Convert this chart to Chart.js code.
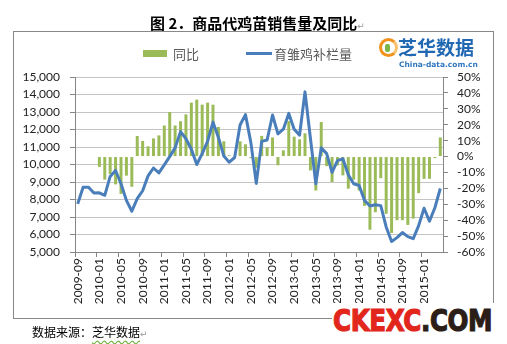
<!DOCTYPE html>
<html>
<head>
<meta charset="utf-8">
<script src="https://cdn.jsdelivr.net/npm/chart.js@4.4.1/dist/chart.umd.min.js"></script>
<style>
  body { margin: 0; width: 507px; height: 344px; position: relative; background: #fff; overflow: hidden; }
  .abs { position: absolute; white-space: nowrap; }
  #title { left: 150px; top: 12px; font: bold 15px "Noto Sans CJK SC"; color: #000; }
  .pmark { font: 9px "DejaVu Sans"; color: #999; }
  #box { left: 13px; top: 31px; width: 479px; height: 286px; border: 1px solid #888; }
  #chart { position: absolute; left: 0; top: 0; }
  .leg { font: 13px "Noto Sans CJK SC"; color: #595959; top: 44px; }
  #logoTxt { left: 398px; top: 33px; font: bold 19px "Noto Sans CJK SC"; color: #2168b3; }
  #logoSub { left: 399px; top: 60px; font: bold 7.5px "DejaVu Sans"; color: #2f77bf; }
  #logoIcon { left: 379px; top: 38px; width: 13px; height: 13px; border: 3px solid #f0921c; border-right-color: #f7c26b; border-radius: 50%; }
  #logoFig { left: 385px; top: 44px; width: 5px; height: 8px; background: #7ab648; border-radius: 2px; }
  #src { left: 32px; top: 323px; font: 12px "Noto Sans CJK SC"; color: #000; }
  #src u { text-decoration: underline wavy #6fb33f; text-underline-offset: 3px; }
  #wm { left: 332px; top: 303px; background: #fff; padding: 0 3px 0 1px; }
  #wm span.t { display: inline-block; font: bold 30px "DejaVu Sans"; transform: scaleX(0.82); transform-origin: left center; letter-spacing: -0.5px; }
  #wm .r { color: #e2261b; -webkit-text-stroke: 1.2px #e2261b; }
  #wm .d { color: #2b1d17; -webkit-text-stroke: 1.2px #2b1d17; }
</style>
</head>
<body>
<div id="box" class="abs"></div>
<canvas id="chart" width="507" height="344"></canvas>
<div id="title" class="abs">图 2．商品代鸡苗销售量及同比<span class="pmark">↵</span></div>

<div class="abs" style="left:143px;top:50px;width:24px;height:7px;background:#9bbb59"></div>
<div class="abs leg" style="left:173px">同比</div>
<div class="abs" style="left:246px;top:52px;width:26px;height:3px;background:#4a7ebb"></div>
<div class="abs leg" style="left:274px">育雏鸡补栏量</div>

<div id="logoIcon" class="abs"></div>
<div id="logoFig" class="abs"></div>
<div id="logoTxt" class="abs">芝华数据</div>
<div id="logoSub" class="abs">China-data.com.cn</div>

<div id="src" class="abs">数据来源：<u>芝华数据</u><span class="pmark">↵</span></div>
<div id="wm" class="abs"><span class="t"><span class="r">CKEXC</span><span class="d">.COM</span></span></div>

<script>
// monthly categories, 2009-09 .. 2015-04
const months = [
  '2009-09', '2009-10', '2009-11', '2009-12',
  '2010-01', '2010-02', '2010-03', '2010-04', '2010-05', '2010-06', '2010-07', '2010-08', '2010-09', '2010-10', '2010-11', '2010-12',
  '2011-01', '2011-02', '2011-03', '2011-04', '2011-05', '2011-06', '2011-07', '2011-08', '2011-09', '2011-10', '2011-11', '2011-12',
  '2012-01', '2012-02', '2012-03', '2012-04', '2012-05', '2012-06', '2012-07', '2012-08', '2012-09', '2012-10', '2012-11', '2012-12',
  '2013-01', '2013-02', '2013-03', '2013-04', '2013-05', '2013-06', '2013-07', '2013-08', '2013-09', '2013-10', '2013-11', '2013-12',
  '2014-01', '2014-02', '2014-03', '2014-04', '2014-05', '2014-06', '2014-07', '2014-08', '2014-09', '2014-10', '2014-11', '2014-12',
  '2015-01', '2015-02', '2015-03', '2015-04'
];

// 育雏鸡补栏量 (left axis)
const restock = [
  7750, 8700, 8700, 8370, 8380, 8240, 9320, 9660, 8900, 7950,
  7330, 8050, 8500, 9350, 9800, 9520, 9980, 10450, 10950, 11880,
  11470, 10870, 10000, 10620, 11330, 12420, 11550, 10480, 10130, 10400,
  12260, 12850, 11250, 8920, 11320, 11400, 12830, 11750, 12020, 12920,
  12010, 11680, 14150, 11500, 8900, 10950, 10620, 9550, 10220, 10330,
  9420, 8900, 8800, 7950, 7630, 7700, 7650, 6430, 5600, 5820,
  6110, 5880, 5760, 6510, 7500, 6760, 7530, 8630
];

// 同比 in % (right axis)
const yoy = [
  null, null, null, null, -6.5, -14.5, -11, -17.5, -23.5, -12,
  -19, 12.9, 9.8, 6.4, 11.4, 13.3, 19.5, 28, 19.5, 22.2,
  26.5, 33.9, 35.8, 32.6, 33.9, 32.6, 18.6, 9.6, 0.8, 0.3,
  9.6, 7.7, -1, -7, 13, 5.8, 12, -5.5, 3.9, 22.3,
  12.5, 10.8, 14.6, -8.7, -21.3, 21.7, -6, -16, -5.6, -11.8,
  -20.2, -14.5, -21.3, -31, -46, -35, -13.6, -36, -48, -40,
  -40, -43, -39, -23, -14, -14, -1, 12
];

const leftTicks = { min: 5000, max: 15000, step: 1000 };
const rightTicks = { min: -60, max: 50, step: 10 };

const tickFont = { family: 'Lato', size: 12 };
const axisGray = '#868686';

const chart = new Chart(document.getElementById('chart'), {
  type: 'bar',
  data: {
    labels: months,
    datasets: [
      {
        type: 'line',
        label: '育雏鸡补栏量',
        data: restock,
        yAxisID: 'y',
        borderColor: '#4a7ebb',
        borderWidth: 3,
        pointRadius: 0,
        tension: 0,
        borderJoinStyle: 'round',
        order: 0
      },
      {
        type: 'bar',
        label: '同比',
        data: yoy,
        yAxisID: 'y1',
        backgroundColor: '#9bbb59',
        barPercentage: 0.55,
        categoryPercentage: 1,
        order: 1
      }
    ]
  },
  options: {
    responsive: false,
    animation: false,
    layout: { padding: { top: 77, left: 0, right: 0, bottom: 0 } },
    plugins: { legend: { display: false }, tooltip: { enabled: false } },
    scales: {
      x: {
        grid: {
          offset: true,
          drawOnChartArea: false,
          tickLength: 5,
          color: c => (c.index % 4 === 0 ? axisGray : 'rgba(0,0,0,0)')
        },
        border: { color: axisGray },
        ticks: {
          autoSkip: false,
          minRotation: 90,
          maxRotation: 90,
          padding: 1,
          color: '#222',
          font: tickFont,
          callback: (v, i) => (i % 4 === 0 ? months[i] : '')
        },
        afterFit: s => { s.height = 92; }
      },
      y: {
        position: 'left',
        min: leftTicks.min,
        max: leftTicks.max,
        ticks: {
          stepSize: leftTicks.step,
          autoSkip: false,
          padding: 10,
          color: '#222',
          font: tickFont,
          callback: v => v.toLocaleString('en-US')
        },
        grid: { color: '#c4c4c4', tickColor: axisGray, tickLength: 5 },
        border: { color: axisGray },
        afterFit: s => { s.width = 75; }
      },
      y1: {
        position: 'right',
        min: rightTicks.min,
        max: rightTicks.max,
        ticks: {
          stepSize: rightTicks.step,
          autoSkip: false,
          padding: 9,
          color: '#222',
          font: tickFont,
          callback: v => v + '%'
        },
        grid: { drawOnChartArea: false, tickLength: 5, color: axisGray },
        border: { color: axisGray },
        afterFit: s => { s.width = 64; }
      }
    }
  }
});
</script>
</body>
</html>
